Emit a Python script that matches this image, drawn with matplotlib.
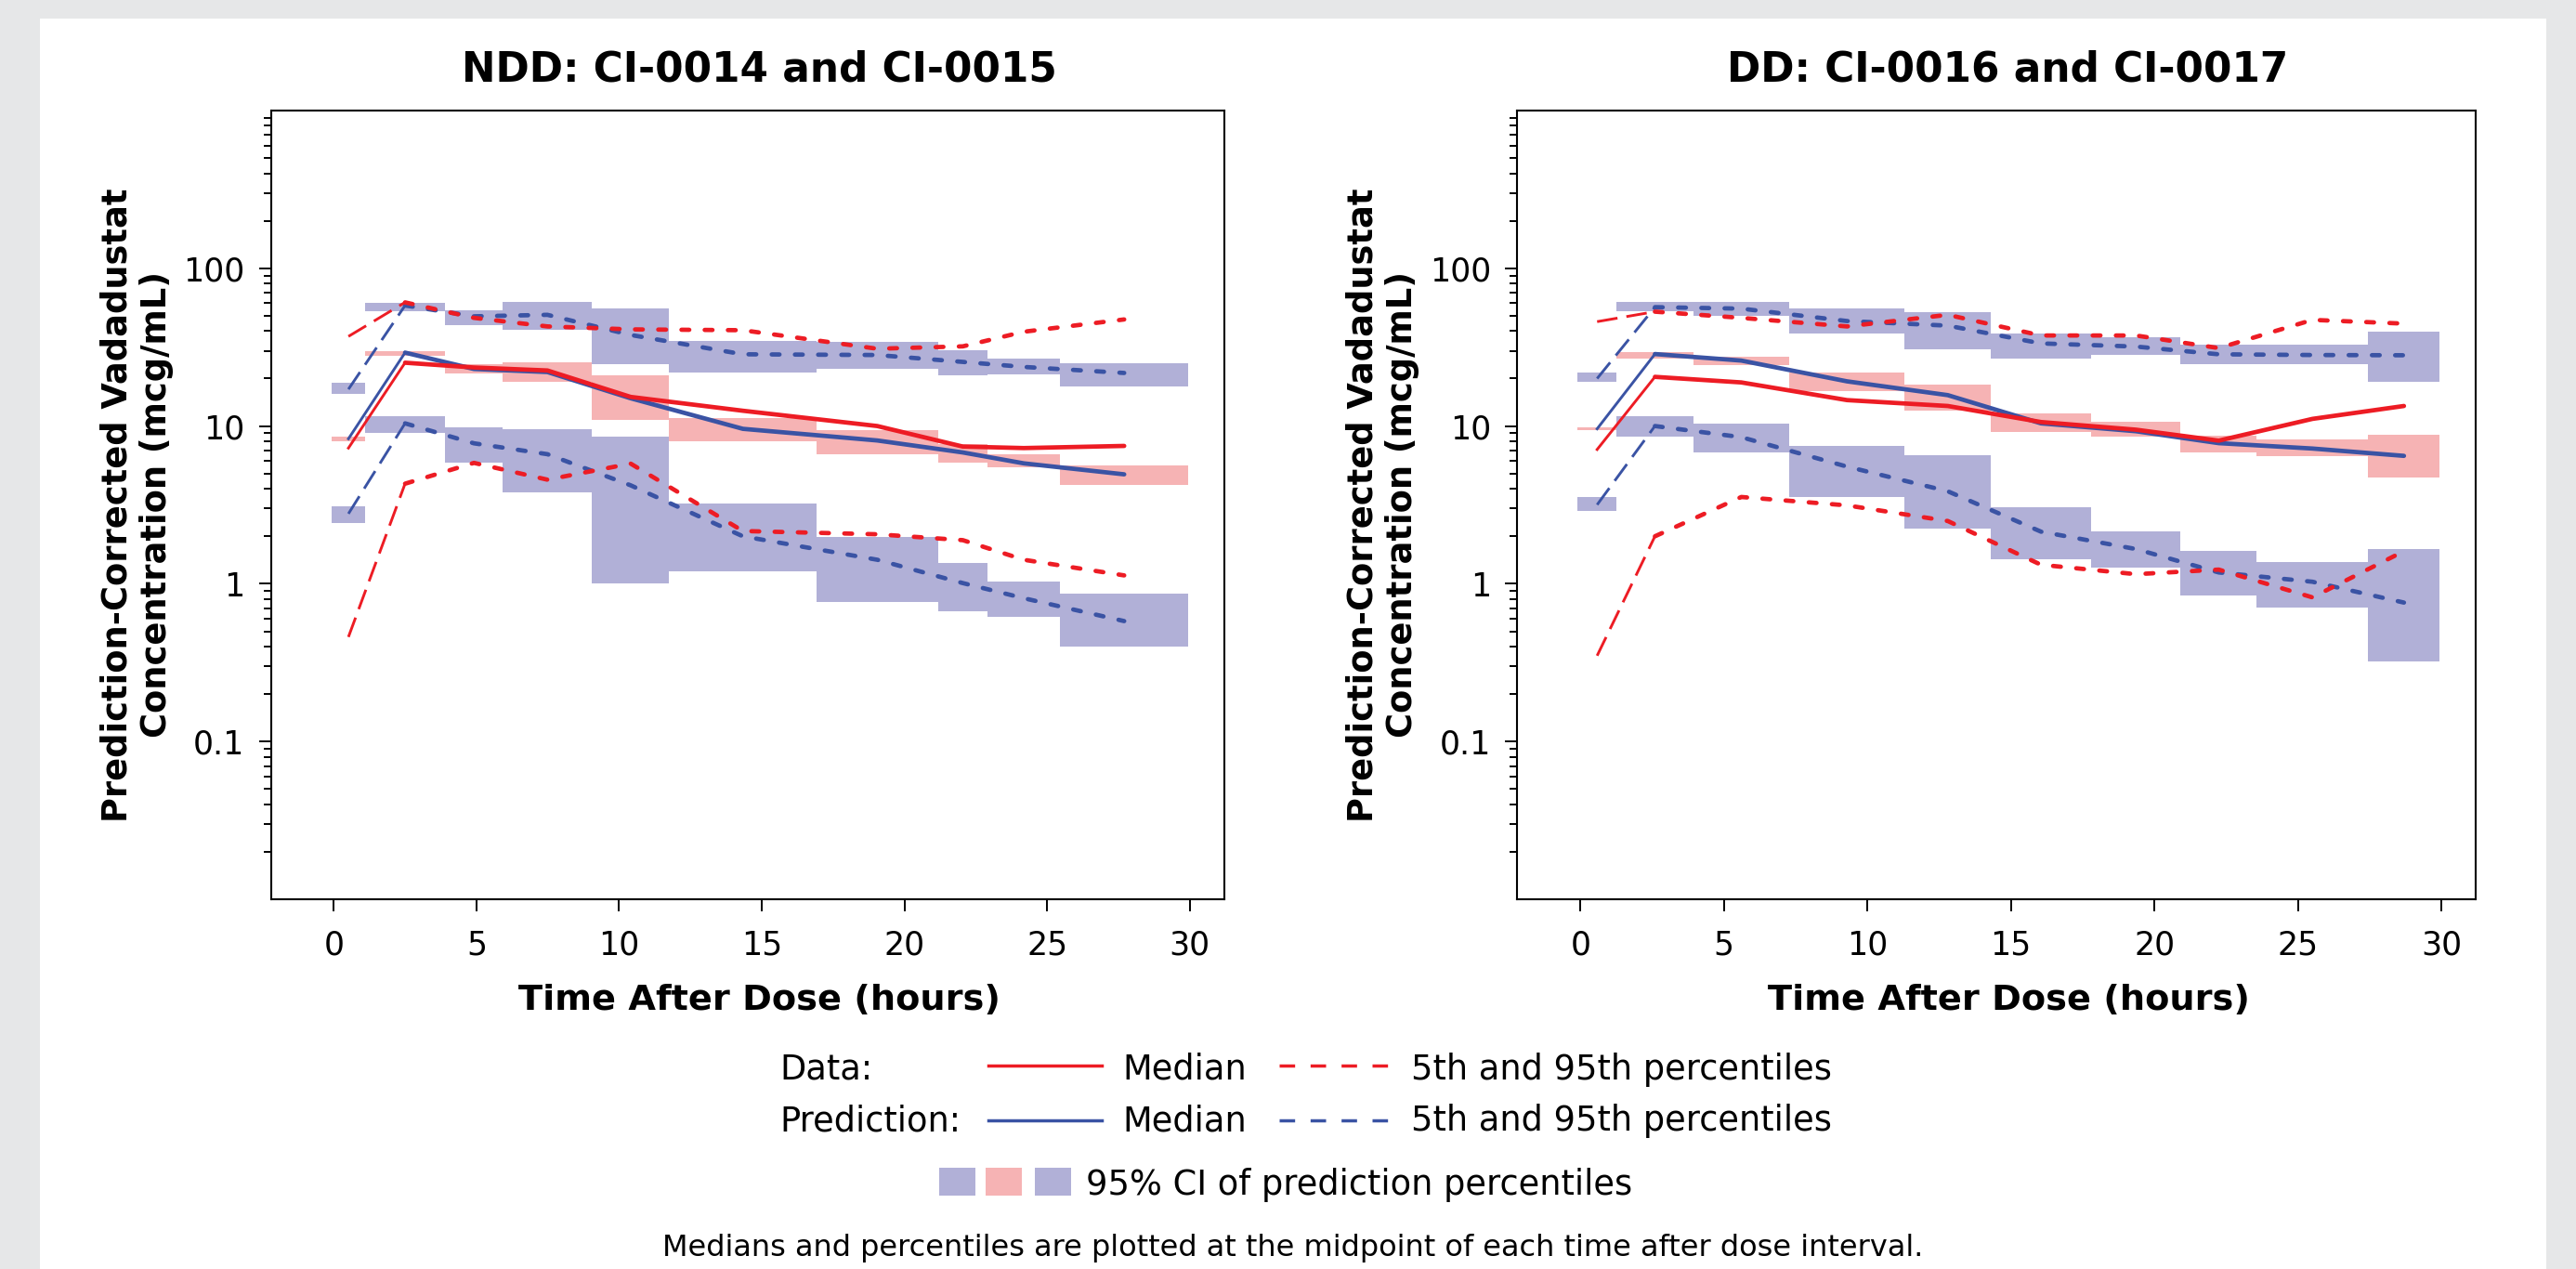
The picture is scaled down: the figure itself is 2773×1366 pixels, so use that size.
import numpy as np
import matplotlib
matplotlib.use("Agg")
import matplotlib.pyplot as plt
from matplotlib import ticker
from matplotlib.patches import Rectangle
from matplotlib.lines import Line2D

# NDD: CI-0014 e CI-0015  (limites dos intervalos de tempo, horas)
ndd_edges = [-0.07, 1.1, 3.9, 5.93, 9.05, 11.76, 16.92, 21.18, 22.92, 25.45, 29.96]
ndd_obs_med = [7.25, 25.2, 23.5, 22.5, 15.3, 12.5, 10.0, 7.41, 7.25, 7.48]
ndd_obs_p05 = [0.46, 4.31, 5.84, 4.57, 5.78, 2.16, 2.06, 1.89, 1.42, 1.13]
ndd_obs_p95 = [37.0, 60.8, 48.5, 42.8, 41.0, 40.5, 30.9, 32.0, 39.6, 47.4]
ndd_pred_med = [8.3, 29.2, 23.0, 22.0, 15.0, 9.6, 8.1, 6.8, 5.8, 4.94]
ndd_pred_p05 = [2.78, 10.4, 7.77, 6.63, 4.21, 2.0, 1.42, 1.01, 0.81, 0.58]
ndd_pred_p95 = [17.1, 58.1, 49.6, 50.7, 37.8, 28.5, 28.2, 25.5, 23.7, 21.7]
# IC 95% dos percentis previstos
ndd_p95_lo = [16.0, 53.8, 43.9, 41.0, 24.6, 21.9, 22.9, 20.9, 21.2, 17.8]
ndd_p95_hi = [18.7, 60.0, 54.3, 60.8, 56.0, 34.8, 34.2, 30.4, 26.6, 24.9]
ndd_med_lo = [8.0, 27.8, 21.5, 19.0, 11.0, 8.0, 6.65, 5.9, 5.46, 4.24]
ndd_med_hi = [8.57, 30.0, 24.8, 25.2, 21.0, 11.2, 9.4, 7.7, 6.65, 5.63]
ndd_p05_lo = [2.43, 9.0, 5.89, 3.82, 1.01, 1.2, 0.77, 0.67, 0.62, 0.40]
ndd_p05_hi = [3.11, 11.6, 9.8, 9.5, 8.57, 3.21, 1.97, 1.36, 1.03, 0.87]

# DD: CI-0016 e CI-0017
dd_edges = [-0.1, 1.26, 3.93, 7.28, 11.3, 14.3, 17.8, 20.92, 23.57, 27.45, 29.95]
dd_obs_med = [7.1, 20.5, 18.9, 14.6, 13.4, 10.6, 9.48, 8.08, 11.1, 13.4]
dd_obs_p05 = [0.35, 2.0, 3.55, 3.14, 2.5, 1.32, 1.15, 1.23, 0.82, 1.61]
dd_obs_p95 = [45.9, 53.1, 48.5, 42.8, 50.7, 37.5, 37.5, 31.2, 47.1, 44.6]
dd_pred_med = [9.6, 28.6, 26.0, 19.2, 15.7, 10.4, 9.27, 7.79, 7.2, 6.47]
dd_pred_p05 = [3.17, 10.0, 8.5, 5.53, 3.86, 2.14, 1.66, 1.18, 1.03, 0.76]
dd_pred_p95 = [20.0, 56.7, 55.5, 46.3, 43.3, 33.4, 31.9, 28.5, 28.2, 28.1]
dd_p95_lo = [19.0, 53.1, 50.0, 38.6, 30.8, 26.6, 28.2, 24.6, 24.6, 19.0]
dd_p95_hi = [21.7, 60.8, 61.4, 55.5, 52.6, 38.7, 36.6, 32.7, 32.7, 39.8]
dd_med_lo = [9.38, 26.9, 24.2, 16.7, 12.5, 9.14, 8.57, 6.81, 6.41, 4.72]
dd_med_hi = [9.86, 29.4, 27.5, 21.7, 18.3, 12.0, 10.6, 8.65, 8.26, 8.81]
dd_p05_lo = [2.9, 8.57, 6.84, 3.56, 2.24, 1.43, 1.27, 0.84, 0.71, 0.32]
dd_p05_hi = [3.55, 11.5, 10.3, 7.45, 6.53, 3.05, 2.16, 1.61, 1.38, 1.66]

x_ticks = [0, 5, 10, 15, 20, 25, 30]
y_ticks = [0.1, 1, 10, 100]
y_tick_labels = ["0.1", "1", "10", "100"]

vermelho = "#ed1c24"
azul = "#3a53a4"
lilas = "#b1b0d7"
rosa = "#f6b3b4"
cinza = "#e6e7e8"

plt.rcParams["font.family"] = "DejaVu Sans"
plt.rcParams["lines.scale_dashes"] = False

W, H = 2773, 1366
fig = plt.figure(figsize=(W / 100, H / 100), dpi=100, facecolor=cinza)
fig.add_artist(Rectangle((43 / W, 0), (2741 - 43) / W, 1 - 20 / H, transform=fig.transFigure,
                         facecolor="white", edgecolor="none", zorder=-10))

TRACO = (0, (6.0, 12.0))
TRACO_INI = (0, (16, 7))


def desenhar(ax, titulo, edges, obs, pred, caixas):
    edges = np.array(edges)
    largura = np.diff(edges)
    meio = edges[:-1] + largura / 2

    for lo, hi, cor in caixas:
        lo = np.array(lo)
        hi = np.array(hi)
        ax.bar(edges[:-1], hi - lo, bottom=lo, width=largura, align="edge",
               color=cor, linewidth=0, zorder=1)

    for series, cor in [(pred, azul), (obs, vermelho)]:
        med, p05, p95 = series
        for s, tracejado in [(p05, True), (p95, True), (med, False)]:
            s = np.array(s)
            # primeiro segmento mais fino, como no original
            ax.plot(meio[:2], s[:2], color=cor, lw=2.1, zorder=3,
                    linestyle=TRACO_INI if tracejado else "-")
            ax.plot(meio[1:], s[1:], color=cor, lw=3.4, zorder=3,
                    linestyle=TRACO if tracejado else "-",
                    dash_capstyle="round", solid_capstyle="round")

    ax.set_yscale("log")
    ax.set_ylim(0.01, 1000)
    ax.set_xlim(-2.2, 31.2)
    ax.set_xticks(x_ticks)
    ax.yaxis.set_major_locator(ticker.FixedLocator(y_ticks))
    ax.yaxis.set_major_formatter(ticker.FixedFormatter(y_tick_labels))
    ax.yaxis.set_minor_locator(ticker.LogLocator(base=10, subs=np.arange(2, 10), numticks=20))
    ax.yaxis.set_minor_formatter(ticker.NullFormatter())

    ax.tick_params(axis="both", which="major", direction="out", length=9.4, width=1.4, labelsize=25)
    ax.tick_params(axis="y", which="minor", direction="out", length=5.8, width=1.4)
    ax.tick_params(axis="x", pad=14)
    ax.tick_params(axis="y", pad=11)
    for sp in ax.spines.values():
        sp.set_linewidth(1.5)

    t = ax.set_title(titulo, fontsize=31.5, fontweight="bold", pad=23)
    t.set_x(0.512)
    ax.set_xlabel("Time After Dose (hours)", fontsize=27.5, fontweight="bold")
    ax.xaxis.set_label_coords(0.513, -(1087 - 968) / 849)
    ax.xaxis.label.set_va("baseline")
    ax.set_ylabel("Prediction-Corrected Vadadustat\nConcentration (mcg/mL)",
                  fontsize=26.5, fontweight="bold", linespacing=1.2)
    ax.yaxis.set_label_coords(-0.141, 0.5)
    ax.yaxis.label.set_va("center")


ax1 = fig.add_axes([291.7 / W, 1 - 968 / H, 1025.8 / W, 849 / H])
ax2 = fig.add_axes([1633.4 / W, 1 - 968 / H, 1031.6 / W, 849 / H])

desenhar(ax1, "NDD: CI-0014 and CI-0015", ndd_edges,
         (ndd_obs_med, ndd_obs_p05, ndd_obs_p95),
         (ndd_pred_med, ndd_pred_p05, ndd_pred_p95),
         [(ndd_p95_lo, ndd_p95_hi, lilas), (ndd_med_lo, ndd_med_hi, rosa), (ndd_p05_lo, ndd_p05_hi, lilas)])
desenhar(ax2, "DD: CI-0016 and CI-0017", dd_edges,
         (dd_obs_med, dd_obs_p05, dd_obs_p95),
         (dd_pred_med, dd_pred_p05, dd_pred_p95),
         [(dd_p95_lo, dd_p95_hi, lilas), (dd_med_lo, dd_med_hi, rosa), (dd_p05_lo, dd_p05_hi, lilas)])


# legenda montada a mao, em pixels da figura
def fx(x):
    return x / W


def fy(y):
    return 1 - y / H


for y_txt, y_lin, rotulo, cor in [(1162, 1147, "Data:", vermelho), (1217, 1206, "Prediction:", azul)]:
    fig.text(fx(839), fy(y_txt), rotulo, fontsize=26.5, va="baseline", ha="left")
    fig.add_artist(Line2D([fx(1064), fx(1186)], [fy(y_lin)] * 2, color=cor, lw=2.5))
    fig.text(fx(1208), fy(y_txt), "Median", fontsize=26.5, va="baseline", ha="left")
    fig.add_artist(Line2D([fx(1377), fx(1495)], [fy(y_lin)] * 2, color=cor, lw=2.5,
                          linestyle=(0, (12, 12))))
    fig.text(fx(1519), fy(y_txt), "5th and 95th percentiles", fontsize=26.5, va="baseline", ha="left")

for x0, cor in [(1011, lilas), (1061, rosa), (1114, lilas)]:
    fig.add_artist(Rectangle((fx(x0), fy(1287)), 39 / W, 30 / H, transform=fig.transFigure,
                             facecolor=cor, edgecolor="none"))
fig.text(fx(1169), fy(1286), "95% CI of prediction percentiles", fontsize=26.5, va="baseline", ha="left")

fig.text(fx(1392), fy(1352), "Medians and percentiles are plotted at the midpoint of each time after dose interval.",
         fontsize=23, va="baseline", ha="center")

fig.savefig("out.png", dpi=100, facecolor=fig.get_facecolor())
